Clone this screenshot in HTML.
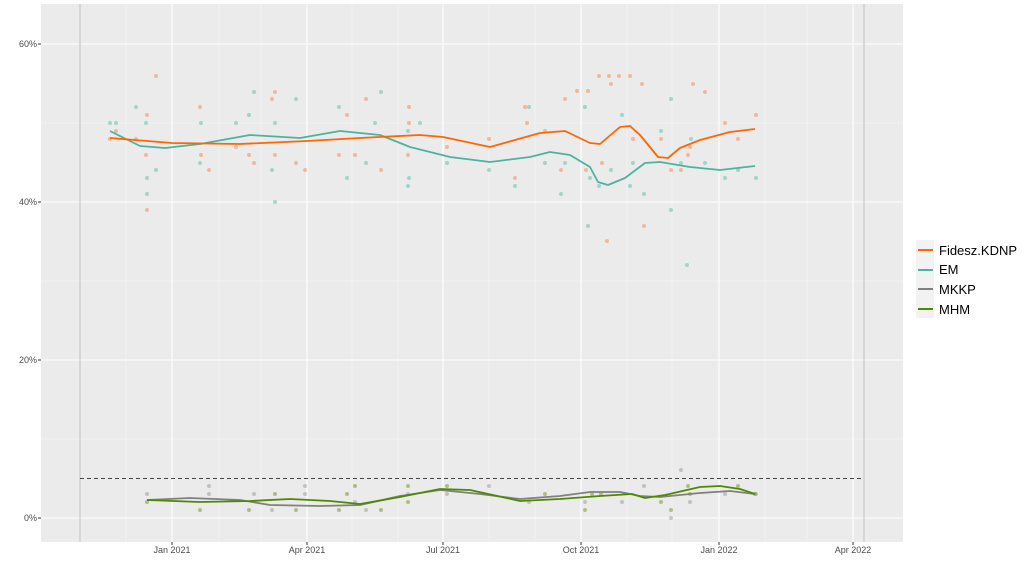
<!DOCTYPE html>
<html><head><meta charset="utf-8"><style>
body{margin:0;background:#fff;font-family:"Liberation Sans",sans-serif}
svg text{font-family:"Liberation Sans",sans-serif}
</style></head><body>
<svg width="1024" height="569" viewBox="0 0 1024 569">
<rect x="41" y="4" width="862" height="538" fill="#ebebeb"/>
<g stroke="#f7f7f7" stroke-width="0.6">
<line x1="41" x2="903" y1="123" y2="123"/><line x1="41" x2="903" y1="281" y2="281"/><line x1="41" x2="903" y1="439" y2="439"/>
<line x1="126" x2="126" y1="4" y2="542"/><line x1="219" x2="219" y1="4" y2="542"/><line x1="261" x2="261" y1="4" y2="542"/>
<line x1="352" x2="352" y1="4" y2="542"/><line x1="398" x2="398" y1="4" y2="542"/><line x1="489" x2="489" y1="4" y2="542"/>
<line x1="535" x2="535" y1="4" y2="542"/><line x1="627" x2="627" y1="4" y2="542"/><line x1="672" x2="672" y1="4" y2="542"/>
<line x1="765" x2="765" y1="4" y2="542"/><line x1="807" x2="807" y1="4" y2="542"/>
</g>
<g stroke="#fff" stroke-width="1.1">
<line x1="41" x2="903" y1="44" y2="44"/><line x1="41" x2="903" y1="202" y2="202"/><line x1="41" x2="903" y1="360" y2="360"/><line x1="41" x2="903" y1="518" y2="518"/>
<line x1="172" x2="172" y1="4" y2="542"/><line x1="307" x2="307" y1="4" y2="542"/><line x1="443" x2="443" y1="4" y2="542"/>
<line x1="581" x2="581" y1="4" y2="542"/><line x1="719" x2="719" y1="4" y2="542"/><line x1="853" x2="853" y1="4" y2="542"/>
</g>
<line x1="80" x2="80" y1="4" y2="542" stroke="#c8c8c8" stroke-width="1.2"/>
<line x1="864" x2="864" y1="4" y2="542" stroke="#c8c8c8" stroke-width="1.2"/>
<line x1="80" x2="864" y1="478.5" y2="478.5" stroke="#444" stroke-width="1" stroke-dasharray="4,3"/>
<g fill="#f4a582" opacity="0.75">
<circle cx="110" cy="139" r="2"/><circle cx="116" cy="131" r="2"/><circle cx="136" cy="139" r="2"/><circle cx="146" cy="155" r="2"/><circle cx="147" cy="115" r="2"/><circle cx="156" cy="76" r="2"/><circle cx="147" cy="210" r="2"/>
<circle cx="200" cy="107" r="2"/><circle cx="201" cy="155" r="2"/><circle cx="209" cy="170" r="2"/><circle cx="236" cy="147" r="2"/><circle cx="249" cy="155" r="2"/><circle cx="254" cy="163" r="2"/><circle cx="272" cy="99" r="2"/><circle cx="275" cy="92" r="2"/><circle cx="275" cy="155" r="2"/><circle cx="296" cy="163" r="2"/><circle cx="305" cy="170" r="2"/>
<circle cx="339" cy="155" r="2"/><circle cx="347" cy="115" r="2"/><circle cx="355" cy="155" r="2"/><circle cx="366" cy="99" r="2"/><circle cx="381" cy="170" r="2"/><circle cx="409" cy="107" r="2"/><circle cx="408" cy="155" r="2"/><circle cx="409" cy="123" r="2"/><circle cx="447" cy="147" r="2"/><circle cx="489" cy="139" r="2"/><circle cx="515" cy="178" r="2"/><circle cx="525" cy="107" r="2"/><circle cx="527" cy="123" r="2"/><circle cx="545" cy="131" r="2"/><circle cx="561" cy="170" r="2"/><circle cx="565" cy="99" r="2"/><circle cx="577" cy="91" r="2"/><circle cx="588" cy="91" r="2"/>
<circle cx="586" cy="170" r="2"/><circle cx="599" cy="76" r="2"/><circle cx="602" cy="163" r="2"/><circle cx="607" cy="241" r="2"/><circle cx="609" cy="76" r="2"/><circle cx="611" cy="84" r="2"/><circle cx="619" cy="76" r="2"/><circle cx="630" cy="76" r="2"/><circle cx="633" cy="139" r="2"/><circle cx="642" cy="84" r="2"/><circle cx="644" cy="226" r="2"/><circle cx="661" cy="139" r="2"/><circle cx="671" cy="170" r="2"/><circle cx="681" cy="170" r="2"/><circle cx="688" cy="155" r="2"/><circle cx="690" cy="147" r="2"/><circle cx="693" cy="84" r="2"/><circle cx="705" cy="92" r="2"/><circle cx="725" cy="123" r="2"/><circle cx="738" cy="139" r="2"/><circle cx="756" cy="115" r="2"/>
</g>
<g fill="#80cdc1" opacity="0.7">
<circle cx="110" cy="123" r="2"/><circle cx="116" cy="123" r="2"/><circle cx="136" cy="107" r="2"/><circle cx="146" cy="123" r="2"/><circle cx="147" cy="178" r="2"/><circle cx="147" cy="194" r="2"/><circle cx="156" cy="170" r="2"/>
<circle cx="201" cy="123" r="2"/><circle cx="200" cy="163" r="2"/><circle cx="236" cy="123" r="2"/><circle cx="249" cy="115" r="2"/><circle cx="254" cy="92" r="2"/><circle cx="275" cy="123" r="2"/><circle cx="272" cy="170" r="2"/><circle cx="275" cy="202" r="2"/><circle cx="296" cy="99" r="2"/>
<circle cx="339" cy="107" r="2"/><circle cx="347" cy="178" r="2"/><circle cx="366" cy="163" r="2"/><circle cx="375" cy="123" r="2"/><circle cx="381" cy="92" r="2"/><circle cx="408" cy="131" r="2"/><circle cx="408" cy="186" r="2"/><circle cx="409" cy="178" r="2"/><circle cx="420" cy="123" r="2"/><circle cx="447" cy="163" r="2"/><circle cx="489" cy="170" r="2"/><circle cx="515" cy="186" r="2"/><circle cx="529" cy="107" r="2"/><circle cx="545" cy="163" r="2"/><circle cx="561" cy="194" r="2"/><circle cx="565" cy="163" r="2"/><circle cx="585" cy="107" r="2"/><circle cx="588" cy="226" r="2"/>
<circle cx="590" cy="178" r="2"/><circle cx="599" cy="186" r="2"/><circle cx="611" cy="170" r="2"/><circle cx="622" cy="115" r="2"/><circle cx="630" cy="186" r="2"/><circle cx="633" cy="163" r="2"/><circle cx="644" cy="194" r="2"/><circle cx="661" cy="131" r="2"/><circle cx="671" cy="99" r="2"/><circle cx="671" cy="210" r="2"/><circle cx="681" cy="163" r="2"/><circle cx="687" cy="265" r="2"/><circle cx="691" cy="139" r="2"/><circle cx="705" cy="163" r="2"/><circle cx="725" cy="178" r="2"/><circle cx="738" cy="170" r="2"/><circle cx="756" cy="178" r="2"/>
</g>
<g fill="#999" opacity="0.5">
<circle cx="147" cy="494" r="2"/><circle cx="209" cy="486" r="2"/><circle cx="209" cy="494" r="2"/><circle cx="254" cy="494" r="2"/><circle cx="272" cy="510" r="2"/><circle cx="305" cy="486" r="2"/><circle cx="305" cy="494" r="2"/><circle cx="355" cy="502" r="2"/><circle cx="366" cy="510" r="2"/><circle cx="408" cy="494" r="2"/><circle cx="447" cy="494" r="2"/><circle cx="489" cy="486" r="2"/><circle cx="529" cy="502" r="2"/><circle cx="585" cy="502" r="2"/><circle cx="622" cy="502" r="2"/><circle cx="644" cy="486" r="2"/><circle cx="671" cy="518" r="2"/><circle cx="681" cy="470" r="2"/><circle cx="690" cy="502" r="2"/><circle cx="725" cy="494" r="2"/><circle cx="756" cy="494" r="2"/>
</g>
<g fill="#7a9a30" opacity="0.55">
<circle cx="147" cy="502" r="2"/><circle cx="200" cy="510" r="2"/><circle cx="249" cy="510" r="2"/><circle cx="275" cy="494" r="2"/><circle cx="296" cy="510" r="2"/><circle cx="339" cy="510" r="2"/><circle cx="347" cy="494" r="2"/><circle cx="355" cy="486" r="2"/><circle cx="381" cy="510" r="2"/><circle cx="408" cy="486" r="2"/><circle cx="408" cy="502" r="2"/><circle cx="447" cy="486" r="2"/><circle cx="545" cy="494" r="2"/><circle cx="585" cy="510" r="2"/><circle cx="592" cy="494" r="2"/><circle cx="601" cy="494" r="2"/><circle cx="661" cy="502" r="2"/><circle cx="671" cy="510" r="2"/><circle cx="688" cy="486" r="2"/><circle cx="690" cy="494" r="2"/><circle cx="738" cy="486" r="2"/><circle cx="755" cy="494" r="2"/>
</g>
<g fill="none" stroke-width="1.8" stroke-linejoin="round">
<polyline stroke="#808080" points="147,500 190,498 240,500 270,505 320,506 360,505 400,496 440,490 480,494 520,499 560,496 590,492 620,492 640,496 660,497 700,493 730,491 755,494"/>
<polyline stroke="#4d8a00" points="147,500 200,502 250,501 290,499 330,501 360,504 400,497 440,489 470,490 520,501 560,499 600,496 632,494 645,498 665,495 700,487 720,486 740,489 755,494"/>
<polyline stroke="#4db3a0" points="110,131 140,146 165,148 200,144 250,135 300,138 340,131 380,135 410,147 450,157 490,162 530,157 550,152 570,155 590,167 598,182 608,185 625,178 645,163 660,162 690,167 720,170 755,166"/>
<polyline stroke="#ff6600" points="110,138 172,143 240,144 307,141 360,138 420,135 443,137 490,147 540,133 565,131 590,143 600,144 620,127 630,126 640,135 658,157 668,158 680,148 700,140 730,132 755,129"/>
</g>
<g font-size="9" fill="#4d4d4d" text-anchor="end">
<text x="37" y="47">60%</text><text x="37" y="205">40%</text><text x="37" y="363">20%</text><text x="37" y="521">0%</text>
</g>
<g stroke="#333" stroke-width="1"><line x1="38" x2="41" y1="44" y2="44"/><line x1="38" x2="41" y1="202" y2="202"/><line x1="38" x2="41" y1="360" y2="360"/><line x1="38" x2="41" y1="518" y2="518"/>
<line x1="172" x2="172" y1="542" y2="545"/><line x1="307" x2="307" y1="542" y2="545"/><line x1="443" x2="443" y1="542" y2="545"/><line x1="581" x2="581" y1="542" y2="545"/><line x1="719" x2="719" y1="542" y2="545"/><line x1="853" x2="853" y1="542" y2="545"/></g>
<g font-size="9" fill="#4d4d4d" text-anchor="middle">
<text x="172" y="553">Jan 2021</text><text x="307" y="553">Apr 2021</text><text x="443" y="553">Jul 2021</text><text x="581" y="553">Oct 2021</text><text x="719" y="553">Jan 2022</text><text x="853" y="553">Apr 2022</text>
</g>
<rect x="916" y="240" width="18" height="78" fill="#f2f2f2"/>
<g stroke-width="2"><line x1="918" x2="933" y1="250" y2="250" stroke="#ff6600"/><line x1="918" x2="933" y1="270" y2="270" stroke="#4db3a0"/><line x1="918" x2="933" y1="289" y2="289" stroke="#808080"/><line x1="918" x2="933" y1="309" y2="309" stroke="#4d8a00"/></g>
<g font-size="13" fill="#000"><text x="939" y="255">Fidesz.KDNP</text><text x="939" y="274">EM</text><text x="939" y="294">MKKP</text><text x="939" y="314">MHM</text></g>
</svg>
</body></html>
